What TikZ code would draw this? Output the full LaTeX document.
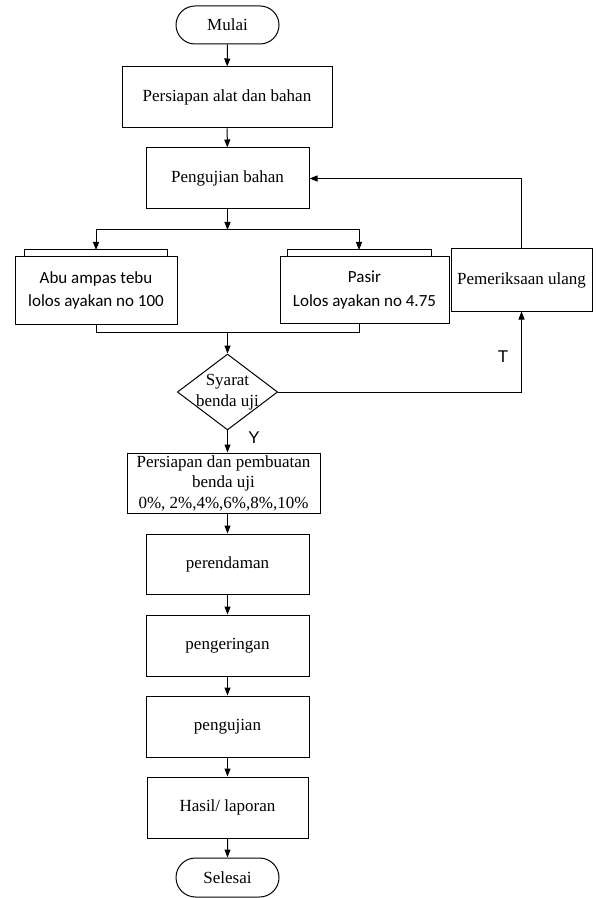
\documentclass[tikz,border=0pt]{standalone}
\usepackage{fontspec}
\setmainfont{Liberation Serif}
\newfontfamily\carl{Carlito}
\newfontfamily\arialf{Liberation Sans}
\usetikzlibrary{shapes.misc,shapes.geometric,arrows.meta,calc}
\begin{document}
\begin{tikzpicture}[x=0.75pt,y=-0.75pt,
  every node/.style={font=\fontsize{12.75}{15.4}\selectfont},
  box/.style={draw,line width=0.75pt,inner sep=0pt,align=center},
  term/.style={draw,rounded rectangle,line width=0.75pt,inner sep=0pt,minimum width=77.25pt,minimum height=28.5pt},
  sbox/.style={box,font=\carl\fontsize{12.75}{17.5}\selectfont},
  arr/.style={-{Triangle[length=6pt,width=4.5pt]},line width=0.75pt},
  ln/.style={line width=0.75pt},
  lbl/.style={font=\arialf\fontsize{12.75}{14}\selectfont,inner sep=0pt}]
\useasboundingbox (0,0) rectangle (597,898);

\node[term] (mulai) at (227.5,25) {Mulai};
\node[box,minimum width=157.5pt,minimum height=45.75pt] (alat) at (227,97.5) {Persiapan alat dan bahan};
\node[box,minimum width=122.25pt,minimum height=45.75pt] (uji) at (227.5,178.5) {Pengujian bahan};
\node[sbox,minimum width=121.5pt,minimum height=50.25pt] (abu) at (96,290.5) {Abu ampas tebu\\lolos ayakan no 100};
\node[sbox,minimum width=126.75pt,minimum height=49.5pt] (pasir) at (364.5,290) {Pasir\\Lolos ayakan no 4.75};
\node[box,minimum width=105.75pt,minimum height=46.5pt] (periksa) at (521.5,280) {Pemeriksaan ulang};
\node[draw,diamond,aspect=1.32,inner sep=-1.5pt,line width=0.75pt,align=center] (syarat) at (227.5,392) {Syarat\\benda uji};
\node[box,minimum width=144.75pt,minimum height=45pt] (buat) at (223.5,483) {Persiapan dan pembuatan\\benda uji\\0\%, 2\%,4\%,6\%,8\%,10\%};
\node[box,minimum width=122.25pt,minimum height=45pt] (rendam) at (227.5,564) {perendaman};
\node[box,minimum width=122.25pt,minimum height=45.75pt] (kering) at (227.5,645.5) {pengeringan};
\node[box,minimum width=122.25pt,minimum height=45.75pt] (pengujian) at (227.5,726.5) {pengujian};
\node[box,minimum width=120.75pt,minimum height=45.75pt] (hasil) at (227.5,807.5) {Hasil/ laporan};
\node[term,minimum height=29.25pt] (selesai) at (227.5,877.5) {Selesai};

\node[lbl] (ylbl) at (254,438) {Y};
\node[lbl] (tlbl) at (503,357) {T};

% tabs on top of the material boxes
\draw[ln] ($(abu.north west)+(10,0)$) |- ($(abu.north east)+(-10,-7)$) -- ($(abu.north east)+(-10,0)$);
\draw[ln] ($(pasir.north west)+(8,0)$) |- ($(pasir.north east)+(-18,-7)$) -- ($(pasir.north east)+(-18,0)$);

\coordinate (sp) at (227.5,230);
\coordinate (abutop) at (96,250);
\coordinate (pasirtop) at (359,250);
\coordinate (pasirbot) at (359,323.5);
\coordinate (mg) at (227.5,332);

\draw[arr] (mulai) -- (alat);
\draw[arr] (alat) -- (uji);
\draw[arr] (uji) -- (sp);
\draw[arr] (sp) -| (abutop);
\draw[arr] (sp) -| (pasirtop);
\draw[ln] (abu.south) |- (mg);
\draw[ln] (pasirbot) |- (mg);
\draw[arr] (mg) -- (syarat.north);
\draw[arr] (syarat.east) -| (periksa.south);
\draw[arr] (periksa.north) |- (uji.east);
\draw[arr] (syarat.south) -- (buat.north -| syarat.south);
\draw[arr] (buat.south -| rendam.north) -- (rendam.north);
\draw[arr] (rendam) -- (kering);
\draw[arr] (kering) -- (pengujian);
\draw[arr] (pengujian) -- (hasil);
\draw[arr] (hasil) -- (selesai);
\end{tikzpicture}
\end{document}
